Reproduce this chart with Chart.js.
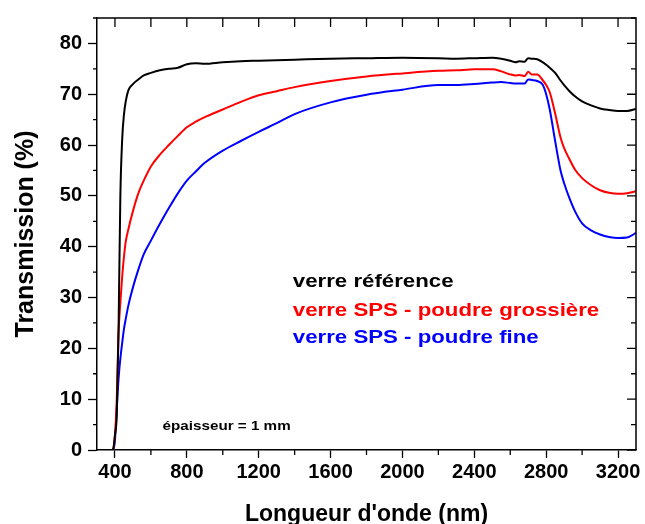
<!DOCTYPE html>
<html lang="fr">
<head>
  <meta charset="UTF-8" />
  <title>Transmission</title>
  <script src="https://cdn.jsdelivr.net/npm/chart.js"></script>
  <style>
    html, body { margin: 0; padding: 0; background: #fff; overflow: hidden; }
    canvas { display: block; }
  </style>
</head>
<body>
  <canvas id="transChart" width="645" height="524"></canvas>

  <script>
    // longueur d'onde (nm)
    const wavelengths = [300, 380, 390, 400, 410, 420, 430, 440, 450, 460, 475, 500, 530, 560, 600, 650,
      700, 750, 800, 850, 900, 1000, 1100, 1200, 1300, 1400, 1600, 1800, 2000, 2200, 2300, 2400, 2500,
      2550, 2600, 2630, 2650, 2680, 2700, 2720, 2750, 2780, 2800, 2820, 2850, 2880, 2900, 2930, 2960,
      3000, 3050, 3100, 3150, 3200, 3250, 3300];

    // transmission (%)
    const verreReference = [0, 0, 0.2, 3, 7, 24, 50, 61, 66, 68.6, 70.8, 72, 72.9, 73.7, 74.2, 74.7,
      75.0, 75.2, 75.9, 76.1, 76.0, 76.3, 76.5, 76.6, 76.7, 76.8, 77.0, 77.1, 77.2, 77.1, 77.0, 77.1, 77.2,
      77.0, 76.6, 76.3, 76.5, 76.4, 77.1, 77.0, 76.9, 76.3, 75.8, 75.2, 74.2, 72.7, 71.8, 70.6, 69.6,
      68.6, 67.8, 67.2, 66.9, 66.7, 66.7, 67.1];

    const spsGrossiere = [0, 0, 0.2, 3, 10, 23, 29, 34, 38, 41, 43.5, 47, 50.5, 53, 55.8, 58.1,
      60.0, 61.8, 63.5, 64.6, 65.5, 67.0, 68.5, 69.8, 70.6, 71.4, 72.6, 73.5, 74.1, 74.6, 74.7, 74.9, 74.9,
      74.5, 73.9, 73.7, 73.8, 73.6, 74.4, 73.9, 73.9, 72.8, 71.8, 70.4, 66.2, 61.5, 59.4, 57.2, 55.2,
      53.5, 52.1, 51.1, 50.6, 50.4, 50.5, 50.9];

    const spsFine = [0, 0, 0, 2, 8, 14, 18, 21, 23.8, 25.8, 28.5, 32, 35.5, 38.5, 41.2, 44.5,
      47.6, 50.5, 53.0, 54.8, 56.5, 58.9, 60.8, 62.6, 64.3, 66.1, 68.4, 69.9, 70.9, 71.8, 71.8, 72.0, 72.3,
      72.4, 72.2, 72.1, 72.1, 72.1, 72.9, 72.8, 72.6, 71.9, 70.0, 67.0, 60.8, 55.0, 52.5, 49.5, 47.0,
      44.6, 43.2, 42.4, 41.9, 41.7, 41.8, 42.7];

    const xTicks = [400, 800, 1200, 1600, 2000, 2400, 2800, 3200];
    const yTicks = [0, 10, 20, 30, 40, 50, 60, 70, 80];

    const labels = [
      { text: 'verre référence', color: '#000000', x: 1390, y: 32.1, size: 19 },
      { text: 'verre SPS - poudre grossière', color: '#ff0000', x: 1390, y: 26.4, size: 19 },
      { text: 'verre SPS - poudre fine', color: '#0000ff', x: 1390, y: 21.1, size: 19 },
      { text: 'épaisseur = 1 mm', color: '#000000', x: 665, y: 3.9, size: 13 }
    ];

    const FONT = "'Liberation Sans', Arial, sans-serif";

    function toPoints(ys) {
      return wavelengths.map((w, i) => ({ x: w, y: ys[i] }));
    }

    // cadre, graduations secondaires et textes
    const framePlugin = {
      id: 'framePlugin',
      afterDraw(chart) {
        const { ctx, chartArea: a, scales: { x, y } } = chart;
        ctx.save();
        ctx.strokeStyle = '#000';
        ctx.lineWidth = 1.5;
        ctx.beginPath();
        ctx.moveTo(a.left, a.top);
        ctx.lineTo(a.right, a.top);
        ctx.lineTo(a.right, a.bottom);
        ctx.stroke();

        ctx.lineWidth = 1.3;
        ctx.beginPath();
        const step = xTicks[1] - xTicks[0];
        for (let v = xTicks[0]; v <= xTicks[xTicks.length - 1]; v += step / 2) {
          const px = x.getPixelForValue(v);
          ctx.moveTo(px, a.top);
          ctx.lineTo(px, a.top + 9);
          if (!xTicks.includes(v)) {
            ctx.moveTo(px, a.bottom);
            ctx.lineTo(px, a.bottom + 5);
          }
        }
        const ystep = yTicks[1] - yTicks[0];
        for (let v = yTicks[0]; v <= y.max; v += ystep / 2) {
          const py = y.getPixelForValue(v);
          const major = yTicks.includes(v);
          ctx.moveTo(a.right, py);
          ctx.lineTo(a.right - (major ? 9 : 5), py);
          if (!major) {
            ctx.moveTo(a.left, py);
            ctx.lineTo(a.left - 4, py);
          }
        }
        ctx.stroke();

        labels.forEach(l => {
          const px = x.getPixelForValue(l.x);
          const py = y.getPixelForValue(l.y);
          ctx.save();
          ctx.translate(px, py);
          ctx.scale(1.17, 1);
          ctx.font = 'bold ' + l.size + 'px ' + FONT;
          ctx.fillStyle = l.color;
          ctx.textBaseline = 'alphabetic';
          ctx.fillText(l.text, 0, 0);
          ctx.restore();
        });
        ctx.restore();
      }
    };

    const ctx = document.getElementById('transChart').getContext('2d');
    const transChart = new Chart(ctx, {
      type: 'line',
      data: {
        datasets: [
          { label: 'verre référence', data: toPoints(verreReference), borderColor: '#000000' },
          { label: 'verre SPS - poudre grossière', data: toPoints(spsGrossiere), borderColor: '#ff0000' },
          { label: 'verre SPS - poudre fine', data: toPoints(spsFine), borderColor: '#0000ff' }
        ]
      },
      options: {
        responsive: false,
        animation: false,
        events: [],
        elements: {
          point: { radius: 0 },
          line: { borderWidth: 2, cubicInterpolationMode: 'monotone', fill: false }
        },
        layout: { padding: { left: 0, top: 15, right: 9, bottom: 0 } },
        plugins: { legend: { display: false }, tooltip: { enabled: false } },
        scales: {
          x: {
            type: 'linear',
            min: 300,
            max: 3300,
            afterBuildTicks: s => { s.ticks = xTicks.map(v => ({ value: v })); },
            afterFit: s => { s.height = 74; },
            border: { display: true, color: '#000', width: 1.5 },
            grid: { drawOnChartArea: false, drawTicks: true, tickLength: 8, color: '#000', tickWidth: 1.3 },
            ticks: {
              color: '#000', padding: 2, maxRotation: 0,
              callback: v => String(v),
              font: { family: FONT, size: 20, weight: 'bold' }
            },
            title: {
              display: true,
              text: "Longueur d'onde (nm)",
              color: '#000',
              padding: { top: 0, bottom: -4 },
              font: { family: FONT, size: 23, weight: 'bold' }
            }
          },
          y: {
            min: 0,
            max: 85,
            afterBuildTicks: s => { s.ticks = yTicks.map(v => ({ value: v })); },
            afterFit: s => { s.width = 97; },
            border: { display: true, color: '#000', width: 1.5 },
            grid: { drawOnChartArea: false, drawTicks: true, tickLength: 9, color: '#000', tickWidth: 1.3 },
            ticks: {
              color: '#000', padding: 6,
              callback: v => String(v),
              font: { family: FONT, size: 20, weight: 'bold' }
            },
            title: {
              display: true,
              text: 'Transmission (%)',
              color: '#000',
              padding: { top: 11, bottom: 0 },
              font: { family: FONT, size: 25, weight: 'bold' }
            }
          }
        }
      },
      plugins: [framePlugin]
    });
  </script>
</body>
</html>
